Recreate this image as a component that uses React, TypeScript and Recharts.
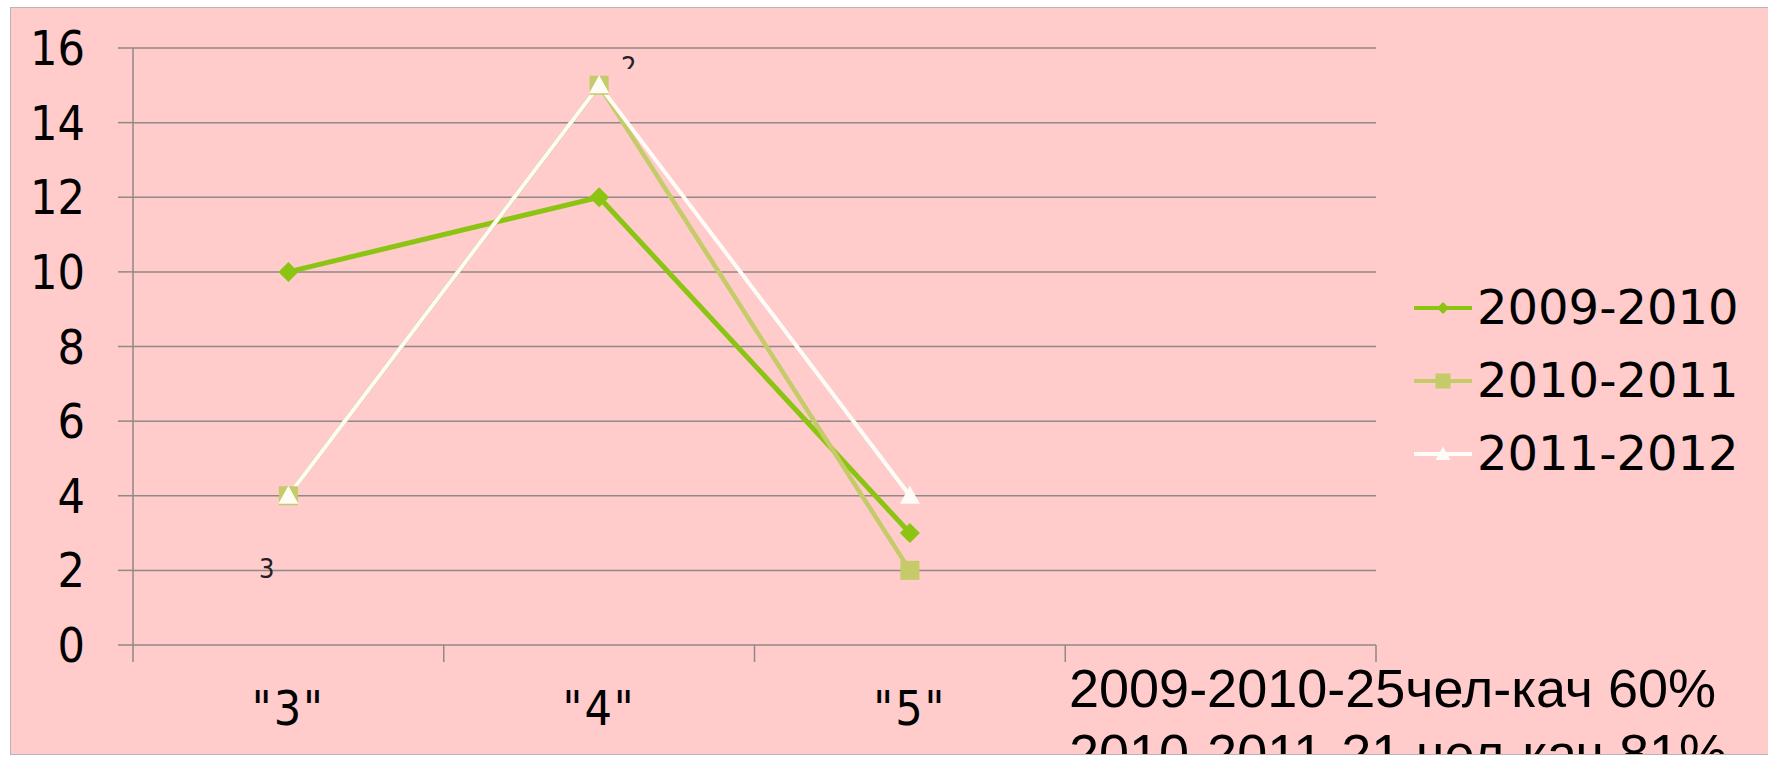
import { LineChart, Line, XAxis, YAxis, CartesianGrid } from 'recharts'

const categories = ['"3"', '"4"', '"5"', '']
const s2009 = [10, 12, 3]
const s2010 = [4, 15, 2]
const s2011 = [4, 15, 4]
const seriesNames = ['2009-2010', '2010-2011', '2011-2012']
const yTicks = [0, 2, 4, 6, 8, 10, 12, 14, 16]
const notes = ['2009-2010-25чел-кач 60%', '2010-2011-21 чел-кач 81%']

const series = [
  { key: 's2009', name: seriesNames[0], color: '#8cc414', width: 5, shape: 'diamond', size: 20 },
  { key: 's2010', name: seriesNames[1], color: '#c4cb68', width: 4.5, shape: 'square', size: 19 },
  { key: 's2011', name: seriesNames[2], color: '#fdfcf6', width: 4, shape: 'triangle', size: 20 },
]

const data = s2009.map((v, i) => ({
  pos: i + 0.5,
  s2009: v,
  s2010: s2010[i],
  s2011: s2011[i],
}))

// boundary ticks at whole numbers, category labels at the halves
const xTicks = categories.flatMap((_, i) => [i, i + 0.5]).concat(categories.length)

const condensed = '"DejaVu Sans Condensed", "DejaVu Sans", sans-serif'
const axisGray = '#8f8989'

function Marker({ shape, cx, cy, size, color }: any) {
  const h = size / 2
  if (shape === 'diamond')
    return <polygon points={`${cx},${cy - h} ${cx + h},${cy} ${cx},${cy + h} ${cx - h},${cy}`} fill={color} />
  if (shape === 'square')
    return <rect x={cx - h} y={cy - h} width={size} height={size} fill={color} />
  return <polygon points={`${cx},${cy - h} ${cx + h},${cy + h * 0.8} ${cx - h},${cy + h * 0.8}`} fill={color} />
}

function CategoryTick({ x, y, payload }: any) {
  const v = payload.value
  if (Number.isInteger(v)) {
    return <line x1={x} y1={y} x2={x} y2={y + 17} stroke={axisGray} strokeWidth={1.5} />
  }
  return (
    <text x={x} y={y + 80} textAnchor="middle" fill="#000" fontSize={48} fontFamily={condensed} letterSpacing={2}>
      {categories[Math.floor(v)]}
    </text>
  )
}

function LegendBox() {
  return (
    <div style={{ position: 'absolute', left: 1413, top: 271 }}>
      {series.map((s) => (
        <div key={s.key} style={{ display: 'flex', alignItems: 'center', height: 73 }}>
          <svg width={60} height={30} style={{ marginRight: 4 }}>
            <line x1={1} y1={15} x2={59} y2={15} stroke={s.color} strokeWidth={4} />
            <Marker shape={s.shape} cx={30} cy={15} size={s.shape === 'diamond' ? 12 : 15} color={s.color} />
          </svg>
          <span style={{ fontFamily: '"DejaVu Sans", sans-serif', fontSize: 48, color: '#000', lineHeight: '73px' }}>
            {s.name}
          </span>
        </div>
      ))}
    </div>
  )
}

export default function App() {
  return (
    <div style={{ position: 'fixed', left: 0, top: 0, width: 1768, height: 758, background: '#fff', overflow: 'hidden' }}>
      <div
        style={{
          position: 'absolute',
          left: 10,
          top: 7,
          width: 1770,
          height: 746,
          background: '#ffcbcb',
          border: '1px solid #b9b3b3',
          overflow: 'hidden',
        }}
      >
        <div
          style={{
            position: 'absolute',
            left: 1058,
            top: 648,
            fontFamily: '"Liberation Sans", Arial, sans-serif',
            fontSize: 54,
            lineHeight: '65px',
            color: '#000',
            whiteSpace: 'nowrap',
          }}
        >
          {notes.map((n) => (
            <div key={n}>{n}</div>
          ))}
        </div>
      </div>

      <div style={{ position: 'absolute', left: 0, top: 0 }}>
        <LineChart width={1768} height={758} data={data} margin={{ top: 48, right: 392, left: 0, bottom: 0 }}>
          <CartesianGrid horizontal vertical={false} stroke={axisGray} strokeWidth={1.5} />
          <XAxis
            dataKey="pos"
            type="number"
            domain={[0, categories.length]}
            ticks={xTicks}
            interval={0}
            tick={<CategoryTick />}
            tickSize={0}
            tickMargin={0}
            tickLine={false}
            axisLine={false}
            height={113}
          />
          <YAxis
            domain={[0, 16]}
            ticks={yTicks}
            interval={0}
            width={133}
            tickSize={15}
            tickMargin={33}
            tick={{ fill: '#000', fontSize: 48, fontFamily: condensed }}
            tickLine={{ stroke: axisGray, strokeWidth: 1.5 }}
            axisLine={{ stroke: axisGray, strokeWidth: 1.5 }}
          />
          {series.map((s) => (
            <Line
              key={s.key}
              dataKey={s.key}
              name={s.name}
              stroke={s.color}
              strokeWidth={s.width}
              isAnimationActive={false}
              dot={(p: any) => (
                <Marker key={`${s.key}-${p.index}`} shape={s.shape} cx={p.cx} cy={p.cy} size={s.size} color={s.color} />
              )}
              activeDot={false}
            />
          ))}
        </LineChart>
      </div>

      <div style={{ position: 'absolute', left: 259, top: 553, fontFamily: condensed, fontSize: 27, color: '#222' }}>3</div>
      <div style={{ position: 'absolute', left: 621, top: 55, height: 14, overflow: 'hidden' }}>
        <div style={{ fontFamily: condensed, fontSize: 27, color: '#222', lineHeight: '32px', marginTop: -4 }}>2</div>
      </div>

      <LegendBox />
    </div>
  )
}
